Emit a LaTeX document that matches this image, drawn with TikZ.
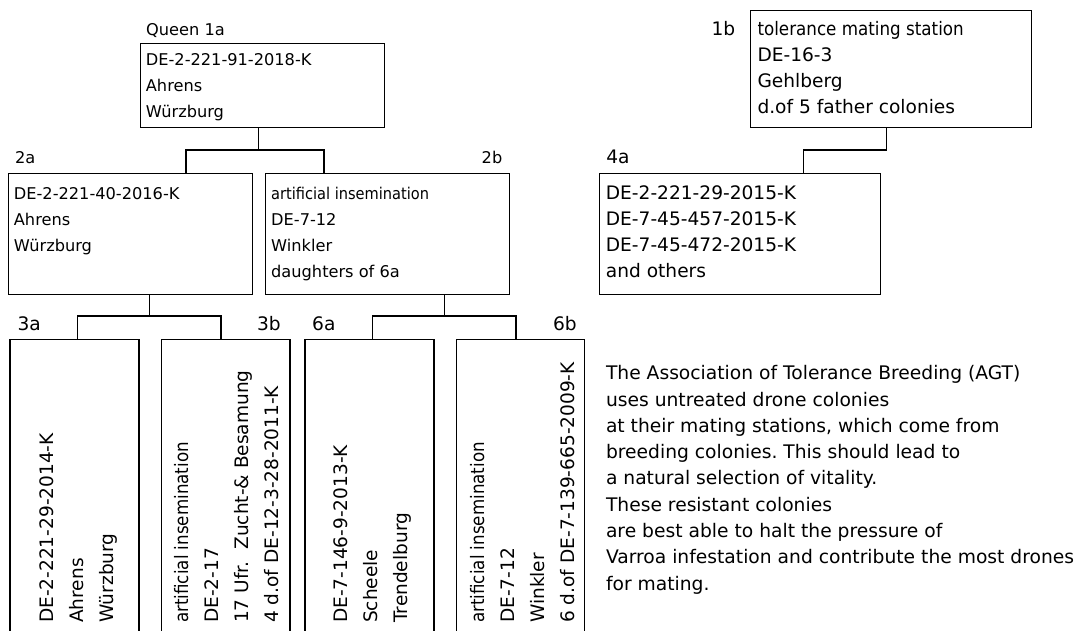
\documentclass[tikz,border=0pt]{standalone}
\usepackage{fontspec}
\setmainfont{DejaVu Sans}
\newfontfamily\cond[FakeStretch=0.9]{DejaVu Sans}
\frenchspacing
\begin{document}
\begin{tikzpicture}[x=1pt,y=-1pt,
  box/.style={draw=black, line width=1.4pt, rectangle, inner sep=0pt, anchor=north west},
  conn/.style={draw=black, line width=1.4pt},
  txt/.style={inner sep=0pt, anchor=base west, font=\fontsize{16.2}{26.2}\selectfont},
  btxt/.style={inner sep=0pt, anchor=base west, font=\fontsize{18.6}{26.3}\selectfont},
  lbl/.style={inner sep=0pt, font=\fontsize{16.2}{26.2}\selectfont},
  blbl/.style={inner sep=0pt, font=\fontsize{18.6}{26.3}\selectfont},
  rtxt/.style={inner sep=0pt, anchor=base west, rotate=90, font=\fontsize{18.55}{30}\selectfont}]
\useasboundingbox (0,0) rectangle (1078,630);
\clip (0,0) rectangle (1078,630);

% boxes
\node[box, minimum width=244pt, minimum height=84pt] (q1a) at (140,43) {};
\node[box, minimum width=281pt, minimum height=117pt] (b1b) at (750,10) {};
\node[box, minimum width=244pt, minimum height=121pt] (b2a) at (8,173) {};
\node[box, minimum width=244pt, minimum height=121pt] (b2b) at (265,173) {};
\node[box, minimum width=280.5pt, minimum height=121pt] (b4a) at (599,173) {};
\node[box, minimum width=129pt, minimum height=320pt] (b3a) at (9.3,339) {};
\node[box, minimum width=128.6pt, minimum height=320pt] (b3b) at (160.7,339) {};
\node[box, minimum width=129pt, minimum height=320pt] (b6a) at (304.3,339) {};
\node[box, minimum width=128.3pt, minimum height=320pt] (b6b) at (455.7,339) {};

% labels
\node[lbl, anchor=base west] (l1a) at (146,35) {Queen 1a};
\node[blbl, anchor=base west] (l1b) at (711.3,35) {1b};
\node[lbl, anchor=base west] (l2a) at (14.8,163.3) {2a};
\node[lbl, anchor=base east] (l2b) at (502.5,163.3) {2b};
\node[blbl, anchor=base west] (l4a) at (606.2,163.3) {4a};
\node[blbl, anchor=base west] (l3a) at (17.3,330) {3a};
\node[blbl, anchor=base east] (l3b) at (281,330) {3b};
\node[blbl, anchor=base west] (l6a) at (312,330) {6a};
\node[blbl, anchor=base east] (l6b) at (577,330) {6b};

% horizontal texts
\node[txt] (t1a) at (145.7,65) {\parbox[t]{230pt}{\raggedright DE-2-221-91-2018-K\\Ahrens\\Würzburg}};
\node[btxt] (t1b) at (757.3,35) {\parbox[t]{270pt}{\raggedright {\cond tolerance mating station}\\DE-16-3\\Gehlberg\\d.of 5 father colonies}};
\node[txt] (t2a) at (13.7,199) {\parbox[t]{230pt}{\raggedright DE-2-221-40-2016-K\\Ahrens\\Würzburg}};
\node[txt] (t2b) at (271,199) {\parbox[t]{230pt}{\raggedright {\cond artificial insemination}\\DE-7-12\\Winkler\\daughters of 6a}};
\node[btxt, font=\fontsize{18.6}{26}\selectfont] (t4a) at (605.7,199) {\parbox[t]{270pt}{\raggedright DE-2-221-29-2015-K\\DE-7-45-457-2015-K\\DE-7-45-472-2015-K\\and others}};

% rotated texts
\node[rtxt] (t3a) at (53,623) {\parbox[t]{280pt}{\raggedright DE-2-221-29-2014-K\\Ahrens\\Würzburg}};
\node[rtxt] (t3b) at (188,623) {\parbox[t]{280pt}{\raggedright {\cond artificial insemination}\\DE-2-17\\17 Ufr.\ \ Zucht-\&~Besamung\\4 d.of DE-12-3-28-2011-K}};
\node[rtxt] (t6a) at (347,623) {\parbox[t]{280pt}{\raggedright DE-7-146-9-2013-K\\Scheele\\Trendelburg}};
\node[rtxt] (t6b) at (484,623) {\parbox[t]{280pt}{\raggedright {\cond artificial insemination}\\DE-7-12\\Winkler\\6 d.of DE-7-139-665-2009-K}};

% paragraph
\node[btxt, font=\fontsize{18.7}{26.3}\selectfont] (para) at (605.8,379.7) {\parbox[t]{480pt}{\raggedright
The Association of Tolerance Breeding (AGT)\\
uses untreated drone colonies\\
at their mating stations, which come from\\
breeding colonies. This should lead to\\
a natural selection of vitality.\\
These resistant colonies\\
are best able to halt the pressure of\\
Varroa infestation and contribute the most drones\\
for mating.}};

% junction coordinates
\coordinate (j1) at (258.7,150);
\coordinate (j1l) at (186,150);
\coordinate (j1r) at (324,150);
\coordinate (j2) at (886.7,150);
\coordinate (j2l) at (803.3,150);
\coordinate (j3) at (149.3,316);
\coordinate (j3l) at (77.7,316);
\coordinate (j3r) at (221,316);
\coordinate (j4) at (444.3,316);
\coordinate (j4l) at (372.3,316);
\coordinate (j4r) at (516,316);

% connectors
\draw[conn] (q1a.south -| j1) -- (j1);
\draw[conn] (b2a.north -| j1l) -- (j1l) -- (j1r) -- (b2b.north -| j1r);
\draw[conn] (b1b.south -| j2) -- (j2) -- (j2l) -- (b4a.north -| j2l);
\draw[conn] (b2a.south -| j3) -- (j3);
\draw[conn] (b3a.north -| j3l) -- (j3l) -- (j3r) -- (b3b.north -| j3r);
\draw[conn] (b2b.south -| j4) -- (j4);
\draw[conn] (b6a.north -| j4l) -- (j4l) -- (j4r) -- (b6b.north -| j4r);
\end{tikzpicture}
\end{document}
